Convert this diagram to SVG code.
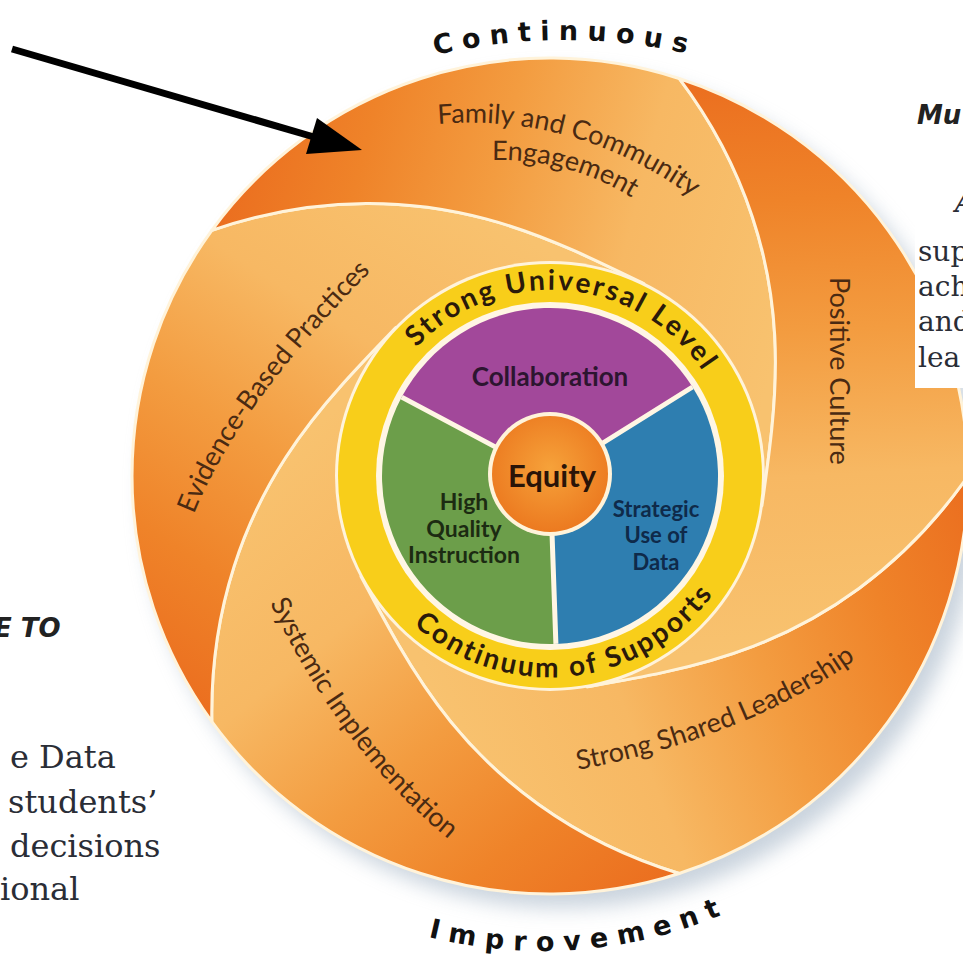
<svg xmlns="http://www.w3.org/2000/svg" width="963" height="957" viewBox="0 0 963 957">
<style>
.petal{fill:url(#pg);stroke:#FFF3DA;stroke-width:3;stroke-linejoin:round}
.lbl{font-family:Lato,"Open Sans","DejaVu Sans",sans-serif;font-size:27px;fill:#4a2a12}
.ringtxt{font-family:Lato,"Open Sans",sans-serif;font-weight:700;font-size:28px;fill:#2b1a0a;letter-spacing:2.5px}
.arc{font-family:"DejaVu Sans",sans-serif;font-size:27px;font-weight:700;fill:#111}
.pie{font-family:Lato,"Open Sans",sans-serif;font-weight:700;text-anchor:middle}
.slab{font-family:"DejaVu Serif","Liberation Serif",serif;fill:#2a2d36}
.marker{font-family:"DejaVu Sans",sans-serif;font-weight:700;font-style:italic;fill:#222}
</style>
<defs>
<linearGradient id="pg" gradientUnits="userSpaceOnUse" x1="418" y1="0" x2="-120" y2="210">
<stop offset="0" stop-color="#EB6E1F"/>
<stop offset="0.22" stop-color="#EF8329"/>
<stop offset="0.45" stop-color="#F39C40"/>
<stop offset="0.7" stop-color="#F7B863"/>
<stop offset="1" stop-color="#F8C26F"/>
</linearGradient>
<radialGradient id="eq" cx="0.5" cy="0.45" r="0.55">
<stop offset="0" stop-color="#F6A23A"/>
<stop offset="1" stop-color="#EC7A20"/>
</radialGradient>
<filter id="sh" x="-20%" y="-20%" width="140%" height="140%"><feGaussianBlur stdDeviation="10"/></filter>
<path id="petal" class="petal" d="M418,0 A418,418 0 0 1 129.17,397.54 C72.40,380.24 25.89,355.38 -11.46,328.55 C-48.81,301.73 -77.05,273.02 -99.27,245.71 C-121.49,218.39 -137.80,192.48 -151.72,168.51 C-165.64,144.54 -177.27,122.44 -188.95,100.46 L-181.0,96.24 A205,205 0 0 0 35.60,201.89 L37.15,210.75 C61.67,206.43 86.28,202.2 113.38,196.37 C140.48,190.54 170.16,183.03 203.0,170.34 C235.84,157.65 271.88,139.66 308.93,112.43 C345.98,85.2 384.0,48.64 418,0 Z"/>
<path id="pCont" d="M373.5,73.8 A560,560 0 0 1 756.5,73.8"/>
<path id="pImp" d="M274.7,866.7 A466,466 0 0 0 809.3,866.7"/>
<path id="pTop" d="M367,456.8 A184,184 0 0 1 733.6,488.8"/>
<path id="pBot" d="M349.5,500.6 A202,202 0 0 0 751.2,458.4"/>
<path id="pFam1" d="M438,124 Q590,112 714,214"/>
<path id="pFam2" d="M492,160 Q590,158 668,224"/>
<path id="pEvid" d="M194,514 Q239,401 382,260"/>
<path id="pSys" d="M270,603 Q345,760 462,850"/>
<path id="pStrong" d="M578,770 Q760,735 875,645"/>
</defs>

<rect width="963" height="957" fill="#ffffff"/>
<circle cx="562" cy="490" r="418" fill="#9fb0c2" opacity="0.55" filter="url(#sh)"/>

<g id="petal-strong-shared-leadership">
<use href="#petal" transform="translate(550,476)"/>
<text class="lbl"><textPath href="#pStrong">Strong Shared Leadership</textPath></text>
</g>
<g id="petal-systemic-implementation">
<use href="#petal" transform="translate(550,476) rotate(72)"/>
<text class="lbl"><textPath href="#pSys">Systemic Implementation</textPath></text>
</g>
<g id="petal-evidence-based-practices">
<use href="#petal" transform="translate(550,476) rotate(144)"/>
<text class="lbl"><textPath href="#pEvid">Evidence-Based Practices</textPath></text>
</g>
<g id="petal-family-community">
<use href="#petal" transform="translate(550,476) rotate(216)"/>
<text class="lbl"><textPath href="#pFam1">Family and Community</textPath></text>
<text class="lbl"><textPath href="#pFam2">Engagement</textPath></text>
</g>
<g id="petal-positive-culture">
<use href="#petal" transform="translate(550,476) rotate(288)"/>
<text class="lbl" transform="translate(830,277) rotate(90)">Positive Culture</text>
</g>

<g id="ring-supports">
<circle cx="550" cy="476" r="215" fill="#FFF3DA"/>
<circle cx="550" cy="476" r="212" fill="#F8CE1A"/>
<circle cx="550" cy="476" r="174" fill="#FFF6E4"/>
<text class="ringtxt" text-anchor="middle"><textPath href="#pTop" startOffset="50%">Strong Universal Level</textPath></text>
<text class="ringtxt" text-anchor="middle"><textPath href="#pBot" startOffset="50%">Continuum of Supports</textPath></text>
</g>

<g id="collaboration">
<path d="M550,476 L401.7,397.1 A168,168 0 0 1 692.5,387 Z" fill="#A2489A"/>
<text class="pie" x="550" y="386" font-size="26" fill="#2d1530">Collaboration</text>
</g>
<g id="strategic-use-of-data">
<path d="M550,476 L692.5,387 A168,168 0 0 1 555.9,643.9 Z" fill="#2E7EB0"/>
<text class="pie" font-size="22" fill="#0f2a4a"><tspan x="656" y="517">Strategic</tspan><tspan x="656" y="543">Use of</tspan><tspan x="656" y="570">Data</tspan></text>
</g>
<g id="high-quality-instruction">
<path d="M550,476 L555.9,643.9 A168,168 0 0 1 401.7,397.1 Z" fill="#6C9E4A"/>
<text class="pie" font-size="23" fill="#1c2b12"><tspan x="464" y="510">High</tspan><tspan x="464" y="537">Quality</tspan><tspan x="464" y="563">Instruction</tspan></text>
</g>
<g id="dividers">
<path d="M550,476 L401.7,397.1 M550,476 L692.5,387 M550,476 L555.9,643.9" stroke="#FFF6E4" stroke-width="5"/>
</g>
<g id="equity">
<circle cx="550" cy="474" r="62" fill="#FFF3DA"/>
<circle cx="550" cy="474" r="58" fill="url(#eq)"/>
<text class="pie" x="552" y="487" font-size="31" fill="#2a1408">Equity</text>
</g>

<g id="title">
<text class="arc" text-anchor="middle" letter-spacing="9"><textPath href="#pCont" startOffset="50%">Continuous</textPath></text>
<text class="arc" text-anchor="middle" letter-spacing="9.5"><textPath href="#pImp" startOffset="56.9%">Improvement</textPath></text>
</g>

<g id="connectors">
<line x1="12" y1="49" x2="314" y2="137" stroke="#000" stroke-width="7"/>
<polygon points="362,150 317,118 306,154" fill="#000"/>
</g>

<g id="side-text">
<text class="marker" x="917" y="124" font-size="26">Mu</text>
<text class="slab" x="955" y="212" font-size="27" font-weight="700" font-style="italic">A</text>
<rect x="915" y="222" width="48" height="166" fill="#ffffff"/>
<text class="slab" font-size="28"><tspan x="918" y="261">sup</tspan><tspan x="918" y="296">ach</tspan><tspan x="918" y="331">and</tspan><tspan x="918" y="367">lea</tspan></text>
<text class="marker" x="-6" y="637" font-size="26">E TO</text>
<text class="slab" font-size="32"><tspan x="10" y="768">e Data</tspan><tspan x="8" y="813">students’</tspan><tspan x="10" y="857">decisions</tspan><tspan x="0" y="900">ional</tspan></text>
</g>
</svg>
